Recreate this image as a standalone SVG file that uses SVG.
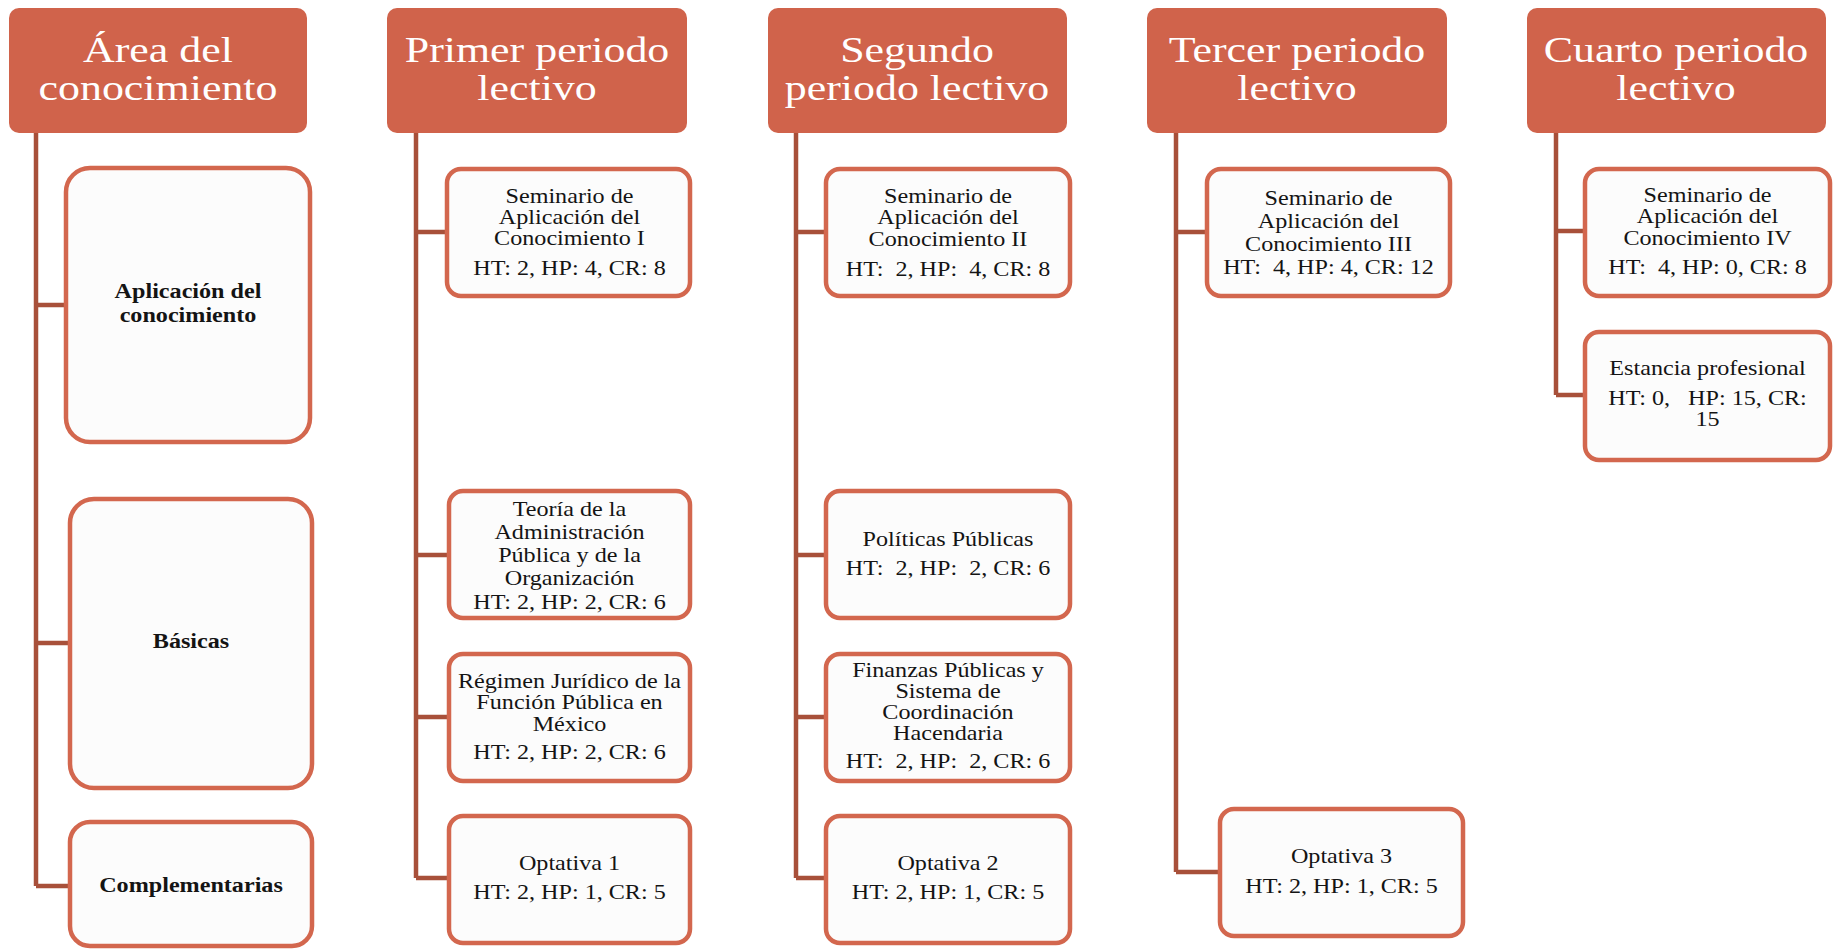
<svg xmlns="http://www.w3.org/2000/svg" width="1836" height="951" viewBox="0 0 1836 951">
<style>
.hdr rect{fill:#D0634B}
.hdr text{font-family:"Liberation Serif","Times New Roman",serif;font-size:36px;fill:#ffffff;text-anchor:middle}
.box rect{fill:#FCFCFC;stroke:#D3674E;stroke-width:4.5}
.box text{font-family:"Liberation Serif","Times New Roman",serif;font-size:21px;fill:#141414;text-anchor:middle}
.box text.b{font-weight:bold}
.conn path{fill:none;stroke:#A8503A;stroke-width:4.5;stroke-linejoin:miter}
</style>
<rect width="1836" height="951" fill="#ffffff"/>
<g class="conn" id="connectors">
<path d="M36 133 V886 M36 305 H66 M36 643 H70 M36 886 H70"/>
<path d="M416 133 V878 M416 232 H447 M416 555 H449 M416 717 H449 M416 878 H449"/>
<path d="M796 133 V878 M796 232 H826 M796 555 H826 M796 717 H826 M796 878 H826"/>
<path d="M1176 133 V872 M1176 232 H1207 M1176 872 H1220"/>
<path d="M1556 133 V395 M1556 231 H1585 M1556 395 H1585"/>
</g>
<g class="hdr" id="h-area"><rect x="9" y="8" width="298" height="125" rx="10"/>
<text transform="translate(158 0) scale(1.22 1)"><tspan x="0" y="62">Área del</tspan><tspan x="0" y="100">conocimiento</tspan></text></g>
<g class="hdr" id="h-p1"><rect x="387" y="8" width="300" height="125" rx="10"/>
<text transform="translate(537 0) scale(1.22 1)"><tspan x="0" y="62">Primer periodo</tspan><tspan x="0" y="100">lectivo</tspan></text></g>
<g class="hdr" id="h-p2"><rect x="768" y="8" width="299" height="125" rx="10"/>
<text transform="translate(917 0) scale(1.22 1)"><tspan x="0" y="62">Segundo</tspan><tspan x="0" y="100">periodo lectivo</tspan></text></g>
<g class="hdr" id="h-p3"><rect x="1147" y="8" width="300" height="125" rx="10"/>
<text transform="translate(1297 0) scale(1.22 1)"><tspan x="0" y="62">Tercer periodo</tspan><tspan x="0" y="100">lectivo</tspan></text></g>
<g class="hdr" id="h-p4"><rect x="1527" y="8" width="299" height="125" rx="10"/>
<text transform="translate(1676 0) scale(1.22 1)"><tspan x="0" y="62">Cuarto periodo</tspan><tspan x="0" y="100">lectivo</tspan></text></g>

<g class="box" id="a-aplic"><rect x="66" y="168" width="244" height="274" rx="24"/>
<text class="b" transform="translate(188 0) scale(1.15 1)"><tspan x="0" y="298">Aplicación del</tspan><tspan x="0" y="322">conocimiento</tspan></text></g>
<g class="box" id="a-basicas"><rect x="70" y="499" width="242" height="289" rx="24"/>
<text class="b" transform="translate(191 0) scale(1.15 1)"><tspan x="0" y="648">Básicas</tspan></text></g>
<g class="box" id="a-compl"><rect x="70" y="822" width="242" height="124" rx="20"/>
<text class="b" transform="translate(191 0) scale(1.15 1)"><tspan x="0" y="892">Complementarias</tspan></text></g>

<g class="box" id="p1-sem"><rect x="447" y="169" width="243" height="127" rx="14"/>
<text transform="translate(569.5 0) scale(1.15 1)"><tspan x="0" y="203">Seminario de</tspan><tspan x="0" y="224">Aplicación del</tspan><tspan x="0" y="245">Conocimiento I</tspan><tspan x="0" y="275">HT: 2, HP: 4, CR: 8</tspan></text></g>
<g class="box" id="p1-teoria"><rect x="449" y="491" width="241" height="127" rx="14"/>
<text transform="translate(569.5 0) scale(1.15 1)"><tspan x="0" y="516">Teoría de la</tspan><tspan x="0" y="539">Administración</tspan><tspan x="0" y="562">Pública y de la</tspan><tspan x="0" y="585">Organización</tspan><tspan x="0" y="609">HT: 2, HP: 2, CR: 6</tspan></text></g>
<g class="box" id="p1-regimen"><rect x="449" y="654" width="241" height="127" rx="14"/>
<text transform="translate(569.5 0) scale(1.15 1)"><tspan x="0" y="688">Régimen Jurídico de la</tspan><tspan x="0" y="709">Función Pública en</tspan><tspan x="0" y="731">México</tspan><tspan x="0" y="759">HT: 2, HP: 2, CR: 6</tspan></text></g>
<g class="box" id="p1-opt"><rect x="449" y="816" width="241" height="127" rx="14"/>
<text transform="translate(569.5 0) scale(1.15 1)"><tspan x="0" y="870">Optativa 1</tspan><tspan x="0" y="899">HT: 2, HP: 1, CR: 5</tspan></text></g>

<g class="box" id="p2-sem"><rect x="826" y="169" width="244" height="127" rx="14"/>
<text transform="translate(948 0) scale(1.15 1)"><tspan x="0" y="203">Seminario de</tspan><tspan x="0" y="224">Aplicación del</tspan><tspan x="0" y="246">Conocimiento II</tspan><tspan x="0" y="276" xml:space="preserve">HT:  2, HP:  4, CR: 8</tspan></text></g>
<g class="box" id="p2-pol"><rect x="826" y="491" width="244" height="127" rx="14"/>
<text transform="translate(948 0) scale(1.15 1)"><tspan x="0" y="546">Políticas Públicas</tspan><tspan x="0" y="575" xml:space="preserve">HT:  2, HP:  2, CR: 6</tspan></text></g>
<g class="box" id="p2-fin"><rect x="826" y="654" width="244" height="127" rx="14"/>
<text transform="translate(948 0) scale(1.15 1)"><tspan x="0" y="677">Finanzas Públicas y</tspan><tspan x="0" y="698">Sistema de</tspan><tspan x="0" y="719">Coordinación</tspan><tspan x="0" y="740">Hacendaria</tspan><tspan x="0" y="768" xml:space="preserve">HT:  2, HP:  2, CR: 6</tspan></text></g>
<g class="box" id="p2-opt"><rect x="826" y="816" width="244" height="127" rx="14"/>
<text transform="translate(948 0) scale(1.15 1)"><tspan x="0" y="870">Optativa 2</tspan><tspan x="0" y="899">HT: 2, HP: 1, CR: 5</tspan></text></g>

<g class="box" id="p3-sem"><rect x="1207" y="169" width="243" height="127" rx="14"/>
<text transform="translate(1328.5 0) scale(1.15 1)"><tspan x="0" y="205">Seminario de</tspan><tspan x="0" y="228">Aplicación del</tspan><tspan x="0" y="251">Conocimiento III</tspan><tspan x="0" y="274" xml:space="preserve">HT:  4, HP: 4, CR: 12</tspan></text></g>
<g class="box" id="p3-opt"><rect x="1220" y="809" width="243" height="127" rx="14"/>
<text transform="translate(1341.5 0) scale(1.15 1)"><tspan x="0" y="863">Optativa 3</tspan><tspan x="0" y="893">HT: 2, HP: 1, CR: 5</tspan></text></g>

<g class="box" id="p4-sem"><rect x="1585" y="169" width="245" height="127" rx="14"/>
<text transform="translate(1707.5 0) scale(1.15 1)"><tspan x="0" y="202">Seminario de</tspan><tspan x="0" y="223">Aplicación del</tspan><tspan x="0" y="245">Conocimiento IV</tspan><tspan x="0" y="274" xml:space="preserve">HT:  4, HP: 0, CR: 8</tspan></text></g>
<g class="box" id="p4-est"><rect x="1585" y="332" width="245" height="128" rx="14"/>
<text transform="translate(1707.5 0) scale(1.15 1)"><tspan x="0" y="375">Estancia profesional</tspan><tspan x="0" y="405" xml:space="preserve">HT: 0,   HP: 15, CR:</tspan><tspan x="0" y="426">15</tspan></text></g>
</svg>
